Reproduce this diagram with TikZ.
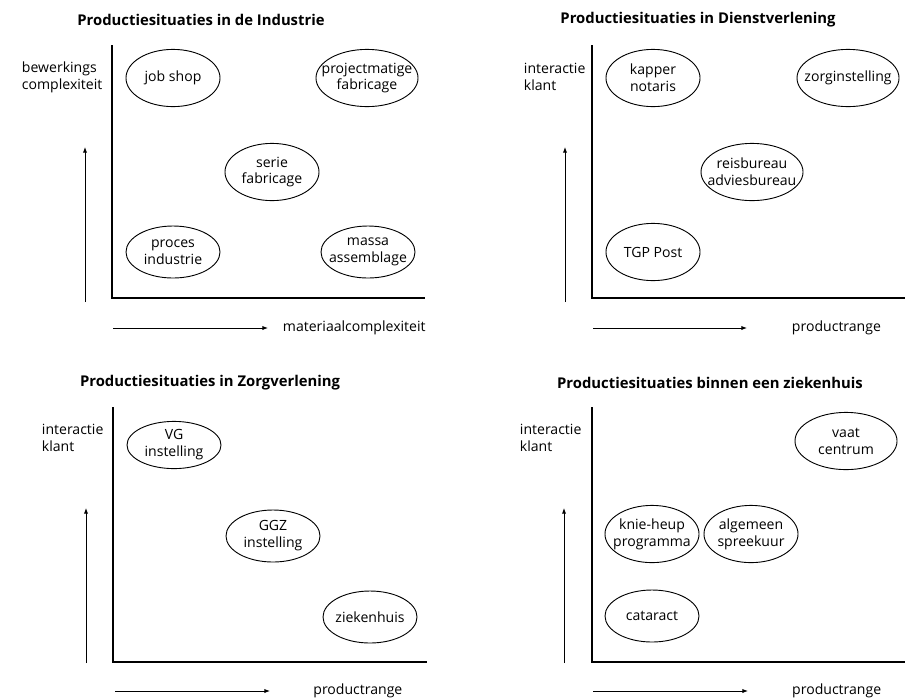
\documentclass[tikz,border=0pt]{standalone}
\usepackage{fontspec}
\setmainfont{Open Sans}
\usetikzlibrary{shapes.geometric, arrows.meta, positioning}

\begin{document}
\begin{tikzpicture}[x=0.025cm, y=-0.025cm,
        situatie/.style={draw, ellipse, line width=0.65pt, align=center, inner xsep=-10pt, inner ysep=0pt,
            minimum width=2.35cm, minimum height=1.43cm},
        breed/.style={minimum width=2.55cm},
        laag/.style={minimum height=1.3cm},
        titel/.style={font=\bfseries\fontsize{10.55pt}{13pt}\selectfont},
        assen/.style={line width=1.2pt},
        pijl/.style={line width=0.65pt, -{Latex[length=4pt, width=3pt]}},
        aslabel/.style={align=left, anchor=west}]
    \useasboundingbox (0,0) rectangle (905,699);

    % Industrie
    \node[titel] (titel1) at (201,20) {Productiesituaties in de Industrie};
    \coordinate (o1) at (112,298);
    \coordinate (y1) at (112,45);
    \coordinate (x1) at (425,298);
    \draw[assen] (y1) -- (o1) -- (x1);
    \coordinate (ua1) at (85,302);
    \coordinate (ub1) at (85,147);
    \coordinate (ra1) at (113,328);
    \coordinate (rb1) at (268,328);
    \draw[pijl] (ua1) -- (ub1);
    \draw[pijl] (ra1) -- (rb1);
    \node[right=0.25cm of rb1] (xlabel1) {materiaalcomplexiteit};
    \node[aslabel] (ylabel1) at (17,77) {bewerkings\\complexiteit};
    \node[situatie] (jobshop) at (173,78) {job shop};
    \node[situatie, breed] (project) at (367,78) {projectmatige\\fabricage};
    \node[situatie] (serie) at (272,172) {serie\\fabricage};
    \node[situatie, laag] (proces) at (173,252) {proces\\industrie};
    \node[situatie, laag] (massa) at (368,252) {massa\\assemblage};

    % Dienstverlening
    \node[titel] (titel2) at (698,20) {Productiesituaties in Dienstverlening};
    \coordinate (o2) at (592,298);
    \coordinate (y2) at (592,45);
    \coordinate (x2) at (905,298);
    \draw[assen] (y2) -- (o2) -- (x2);
    \coordinate (ua2) at (565,302);
    \coordinate (ub2) at (565,147);
    \coordinate (ra2) at (593,328);
    \coordinate (rb2) at (747,328);
    \draw[pijl] (ua2) -- (ub2);
    \draw[pijl] (ra2) -- (rb2);
    \node[right=1cm of rb2] (xlabel2) {productrange};
    \node[aslabel] (ylabel2) at (519,77) {interactie\\klant};
    \node[situatie] (kapper) at (653,78) {kapper\\notaris};
    \node[situatie, breed] (zorg) at (848,78) {zorginstelling};
    \node[situatie, breed] (reis) at (752,172) {reisbureau\\adviesbureau};
    \node[situatie] (tgp) at (653,252) {TGP Post};

    % Zorgverlening
    \node[titel] (titel3) at (210,383) {Productiesituaties in Zorgverlening};
    \coordinate (o3) at (113,662);
    \coordinate (y3) at (113,407);
    \coordinate (x3) at (427,662);
    \draw[assen] (y3) -- (o3) -- (x3);
    \coordinate (ua3) at (86,663);
    \coordinate (ub3) at (86,508);
    \coordinate (ra3) at (115,691);
    \coordinate (rb3) at (270,691);
    \draw[pijl] (ua3) -- (ub3);
    \draw[pijl] (ra3) -- (rb3);
    \node[right=0.96cm of rb3] (xlabel3) {productrange};
    \node[aslabel] (ylabel3) at (37,438) {interactie\\klant};
    \node[situatie, minimum height=1.18cm] (vg) at (174,445) {VG\\instelling};
    \node[situatie, laag] (ggz) at (273,536) {GGZ\\instelling};
    \node[situatie, laag] (zkh) at (370,617) {ziekenhuis};

    % ziekenhuis
    \node[titel] (titel4) at (710,383) {Productiesituaties binnen een ziekenhuis};
    \coordinate (o4) at (592,662);
    \coordinate (y4) at (592,407);
    \coordinate (x4) at (905,662);
    \draw[assen] (y4) -- (o4) -- (x4);
    \coordinate (ua4) at (564,663);
    \coordinate (ub4) at (564,508);
    \coordinate (ra4) at (593,691);
    \coordinate (rb4) at (748,691);
    \draw[pijl] (ua4) -- (ub4);
    \draw[pijl] (ra4) -- (rb4);
    \node[right=0.98cm of rb4] (xlabel4) {productrange};
    \node[aslabel] (ylabel4) at (515,438) {interactie\\klant};
    \node[situatie, breed] (vaat) at (846,441) {vaat\\centrum};
    \node[situatie] (knie) at (652,534) {knie-heup\\programma};
    \node[situatie] (algemeen) at (751,534) {algemeen\\spreekuur};
    \node[situatie, laag] (cataract) at (652,616) {cataract};
\end{tikzpicture}
\end{document}
